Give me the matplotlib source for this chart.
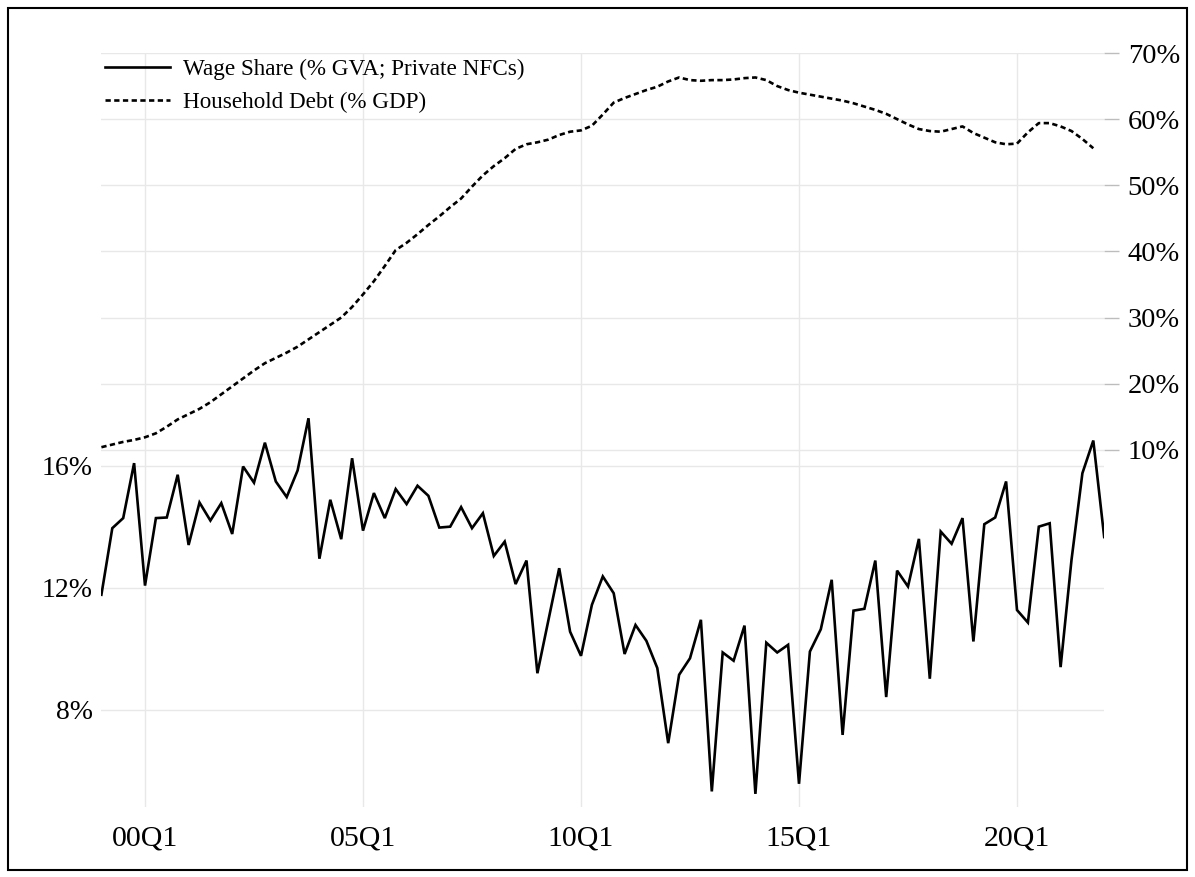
import matplotlib
matplotlib.use("Agg")
import matplotlib.pyplot as plt
from matplotlib.patches import Rectangle

plt.rcParams['font.family'] = ['Liberation Serif', 'DejaVu Serif']

# ---------------- data ----------------
quarters = [f"{(1999 + k // 4) % 100:02d}Q{k % 4 + 1}" for k in range(93)]  # 99Q1 .. 22Q1

wage_share = [
    11.77, 13.95, 14.28, 16.08, 12.07, 14.28, 14.30, 15.70, 13.40, 14.79,
    14.20, 14.77, 13.76, 15.97, 15.44, 16.75, 15.48, 14.97, 15.84, 17.55,
    12.95, 14.88, 13.59, 16.24, 13.87, 15.10, 14.28, 15.23, 14.74, 15.34,
    15.01, 13.97, 14.00, 14.64, 13.95, 14.44, 13.04, 13.51, 12.12, 12.89,
    9.20, 10.92, 12.64, 10.56, 9.77, 11.44, 12.37, 11.82, 9.83, 10.78,
    10.26, 9.37, 6.91, 9.15, 9.69, 10.95, 5.33, 9.88, 9.61, 10.76,
    5.25, 10.20, 9.88, 10.13, 5.58, 9.91, 10.64, 12.26, 7.18, 11.25,
    11.31, 12.89, 8.42, 12.56, 12.04, 13.60, 9.02, 13.84, 13.44, 14.28,
    10.24, 14.08, 14.30, 15.48, 11.27, 10.86, 14.00, 14.11, 9.40, 12.91,
    15.75, 16.82, 13.66,
]

household_debt = [
    10.4, 10.8, 11.2, 11.5, 11.9, 12.5, 13.5, 14.6, 15.4, 16.2,
    17.2, 18.4, 19.6, 20.8, 22.0, 23.1, 23.9, 24.7, 25.6, 26.7,
    27.8, 28.9, 30.0, 31.6, 33.5, 35.5, 37.8, 40.2, 41.3, 42.6,
    44.0, 45.3, 46.7, 48.0, 49.8, 51.5, 52.9, 54.1, 55.5, 56.2,
    56.5, 56.9, 57.6, 58.1, 58.3, 59.0, 60.7, 62.5, 63.2, 63.8,
    64.4, 64.9, 65.7, 66.3, 65.9, 65.8, 65.9, 65.9, 66.0, 66.2,
    66.3, 65.9, 65.0, 64.4, 64.0, 63.7, 63.4, 63.1, 62.8, 62.4,
    61.9, 61.4, 60.8, 60.0, 59.2, 58.5, 58.2, 58.1, 58.5, 58.9,
    57.9, 57.2, 56.5, 56.2, 56.3, 58.0, 59.4, 59.4, 58.9, 58.2,
    57.0, 55.6,
]

xtick_labels = ["00Q1", "05Q1", "10Q1", "15Q1", "20Q1"]
left_ticks = [8, 12, 16]
right_ticks = [10, 20, 30, 40, 50, 60, 70]

series_labels = ["Wage Share (% GVA; Private NFCs)", "Household Debt (% GDP)"]

# ---------------- figure ----------------
W, H = 1195, 877
fig = plt.figure(figsize=(W / 100, H / 100), dpi=100)
fig.patch.set_facecolor("white")

ax2 = fig.add_axes([101.4 / W, 1 - 807 / H, (1104.2 - 101.4) / W, (807 - 53) / H])
ax = ax2.twinx()
# ax: wage share on the LEFT, ax2: debt on the RIGHT
ax.yaxis.tick_left()
ax2.yaxis.tick_right()
ax.set_zorder(2)
ax2.set_zorder(1)
ax.patch.set_visible(False)
ax2.patch.set_visible(False)

grid_c = "#e8e8e8"

xs = list(range(len(quarters)))
xs_debt = xs[:len(household_debt)]

# grids
for lab in xtick_labels:
    ax2.axvline(quarters.index(lab), color=grid_c, lw=1.0, zorder=0)
for t in right_ticks:
    ax2.axhline(t, color=grid_c, lw=1.0, zorder=0)
for t in left_ticks:
    ax.axhline(t, color=grid_c, lw=1.0, zorder=0)

l2, = ax2.plot(xs_debt, household_debt, color="black", lw=1.9,
               linestyle=(0, (2.0, 1.3)), zorder=3)
l1, = ax.plot(xs, wage_share, color="black", lw=1.9, zorder=3,
              solid_joinstyle="miter")

ax.set_xlim(0, len(quarters) - 1)
ax2.set_xlim(0, len(quarters) - 1)
ax.set_ylim(4.82, 29.51)
ax2.set_ylim(-44.0, 70.0)

ax2.set_xticks([quarters.index(l) for l in xtick_labels])
ax2.set_xticklabels(xtick_labels, fontsize=21.5)
ax2.tick_params(axis="x", length=0, pad=13)
ax.tick_params(axis="x", which="both", bottom=False, labelbottom=False, top=False, labeltop=False)

ax.set_yticks(left_ticks)
ax.set_yticklabels([f"{t}%" for t in left_ticks], fontsize=20)
ax.tick_params(axis="y", length=0, pad=6, labelleft=True, labelright=False, right=False)

ax2.set_yticks(right_ticks)
ax2.set_yticklabels([f"{t}%" for t in right_ticks], fontsize=20.5)
ax2.tick_params(axis="y", length=11, width=1.0, color="#bdbdbd", pad=6,
                labelright=True, labelleft=False, left=False, right=True)

for a in (ax, ax2):
    for s in a.spines.values():
        s.set_visible(False)

leg = ax.legend([l1, l2], series_labels, loc="upper left",
                bbox_to_anchor=(100 / W, 1 - 54 / H), bbox_transform=fig.transFigure,
                frameon=False, fontsize=16.7, handlelength=2.8, handletextpad=0.58,
                labelspacing=0.52, borderpad=0.2, borderaxespad=0)

fig.patches.append(Rectangle((8 / W, 7 / H), (1187 - 8) / W, (870 - 8) / H,
                             transform=fig.transFigure, fill=False,
                             edgecolor="black", lw=1.5))

fig.savefig("out.png", dpi=100)
